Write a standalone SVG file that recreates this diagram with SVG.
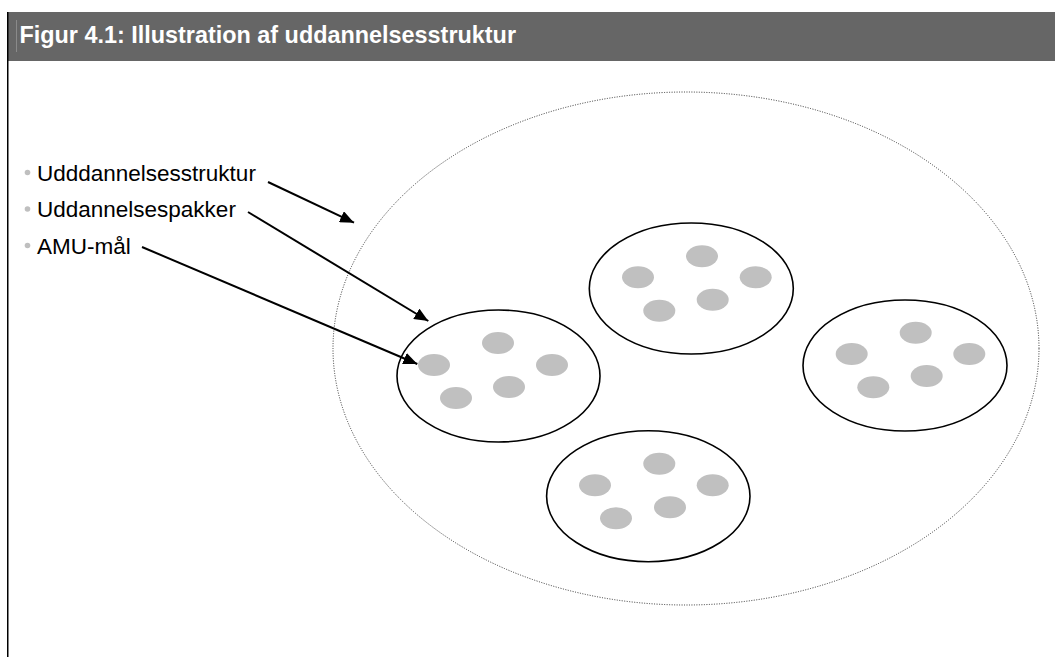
<svg xmlns="http://www.w3.org/2000/svg" width="1055" height="657" viewBox="0 0 1055 657">
  <defs>
    <marker id="arr" viewBox="0 0 14 12" refX="14" refY="6" markerWidth="14" markerHeight="12" markerUnits="userSpaceOnUse" orient="auto">
      <path d="M0,0 L14,6 L0,12 Z" fill="#000"/>
    </marker>
  </defs>
  <style>
    .title { font-family: "Liberation Sans", Arial, sans-serif; font-weight: bold; font-size: 23.4px; fill: #ffffff; }
    .lbl { font-family: "Liberation Sans", Arial, sans-serif; font-size: 22.5px; fill: #000; }
    .bullet { fill: #bfbfbf; }
    .outer { fill: none; stroke: #333; stroke-width: 1; stroke-dasharray: 1 1.5; }
    .pack { fill: #fff; stroke: #000; stroke-width: 1.6; }
    .goal { fill: #c0c0c0; }
    .conn { stroke: #000; stroke-width: 2; fill: none; marker-end: url(#arr); }
  </style>
  <rect x="0" y="0" width="1055" height="657" fill="#fff"/>
  <g id="header">
    <rect x="7" y="12" width="1048" height="49" fill="#666666"/>
    <line x1="16.5" y1="20" x2="16.5" y2="52" stroke="#8a8a8a" stroke-width="1"/>
    <text class="title" x="19.5" y="42.7">Figur 4.1: Illustration af uddannelsesstruktur</text>
  </g>
  <line x1="7.75" y1="12" x2="7.75" y2="657" stroke="#000" stroke-width="1.5"/>
  <g id="legend">
    <circle class="bullet" cx="27.5" cy="172.5" r="2.8"/>
    <text class="lbl" x="37" y="180.5">Udddannelsesstruktur</text>
    <circle class="bullet" cx="27.5" cy="209" r="2.8"/>
    <text class="lbl" x="37" y="217">Uddannelsespakker</text>
    <circle class="bullet" cx="27.5" cy="245.5" r="2.8"/>
    <text class="lbl" x="37" y="253.5">AMU-mål</text>
  </g>
  <g id="uddannelsesstruktur">
    <ellipse class="outer" cx="686" cy="348.5" rx="353" ry="256.5"/>
  </g>
  <g id="pakke-venstre">
    <ellipse class="pack" cx="498.5" cy="376" rx="101.5" ry="66"/>
    <ellipse class="goal" cx="434" cy="365" rx="16" ry="11"/>
    <ellipse class="goal" cx="498" cy="343" rx="16" ry="11"/>
    <ellipse class="goal" cx="552" cy="365" rx="16" ry="11"/>
    <ellipse class="goal" cx="456" cy="398" rx="16" ry="11"/>
    <ellipse class="goal" cx="509" cy="387" rx="16" ry="11"/>
  </g>
  <g id="pakke-top">
    <ellipse class="pack" cx="691.3" cy="288.5" rx="102" ry="65.5"/>
    <ellipse class="goal" cx="638" cy="277.3" rx="16" ry="11"/>
    <ellipse class="goal" cx="702" cy="256.3" rx="16" ry="11"/>
    <ellipse class="goal" cx="755.7" cy="277.3" rx="16" ry="11"/>
    <ellipse class="goal" cx="659.3" cy="310.7" rx="16" ry="11"/>
    <ellipse class="goal" cx="712.7" cy="299.7" rx="16" ry="11"/>
  </g>
  <g id="pakke-hoejre">
    <ellipse class="pack" cx="905" cy="365.5" rx="102" ry="65.5"/>
    <ellipse class="goal" cx="851.7" cy="354" rx="16" ry="11"/>
    <ellipse class="goal" cx="915.7" cy="332.7" rx="16" ry="11"/>
    <ellipse class="goal" cx="969.3" cy="354" rx="16" ry="11"/>
    <ellipse class="goal" cx="873.3" cy="387.3" rx="16" ry="11"/>
    <ellipse class="goal" cx="926.7" cy="376" rx="16" ry="11"/>
  </g>
  <g id="pakke-bund">
    <ellipse class="pack" cx="648.3" cy="496.2" rx="101.7" ry="65.5"/>
    <ellipse class="goal" cx="595" cy="485.3" rx="16" ry="11"/>
    <ellipse class="goal" cx="659.3" cy="463.7" rx="16" ry="11"/>
    <ellipse class="goal" cx="712.7" cy="485.3" rx="16" ry="11"/>
    <ellipse class="goal" cx="616" cy="518.3" rx="16" ry="11"/>
    <ellipse class="goal" cx="670" cy="507.3" rx="16" ry="11"/>
  </g>
  <g id="connectors">
    <line class="conn" x1="268" y1="182" x2="354" y2="222.7"/>
    <line class="conn" x1="248" y1="212" x2="428.3" y2="321"/>
    <line class="conn" x1="142" y1="247" x2="417.3" y2="364"/>
  </g>
</svg>
